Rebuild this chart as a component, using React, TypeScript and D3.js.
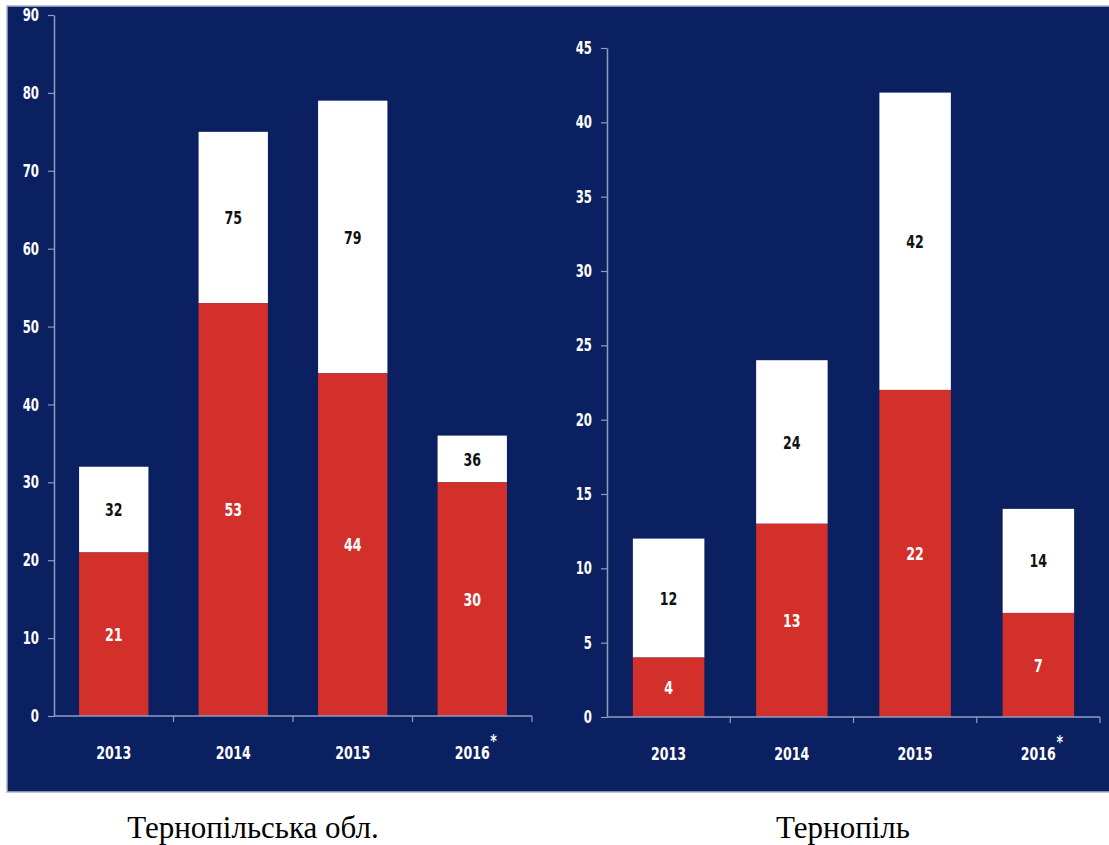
import { useEffect, useRef } from 'react';
import * as d3 from 'd3';

// Years on the x axis (the last one carries a footnote star)
const years = ['2013', '2014', '2015', '2016'];

// Тернопільська обл.
const regionRed = [21, 53, 44, 30];
const regionTotal = [32, 75, 79, 36];
const regionTicks = [0, 10, 20, 30, 40, 50, 60, 70, 80, 90];

// Тернопіль
const cityRed = [4, 13, 22, 7];
const cityTotal = [12, 24, 42, 14];
const cityTicks = [0, 5, 10, 15, 20, 25, 30, 35, 40, 45];

const captions = ['Тернопільська обл.', 'Тернопіль'];

const NAVY = '#0b2060';
const RED = '#d3302c';
const AXIS = '#8e9cc4';
const FONT = '"DejaVu Sans Condensed", "DejaVu Sans", sans-serif';
const STRETCH = 1.3; // slide text is squeezed sideways / tall

interface PanelSpec {
  red: number[];
  total: number[];
  ticks: number[];
  x0: number;
  x1: number;
  yTop: number;
  yZero: number;
  barFrac: number;
  caption: string;
  captionX: number;
}

type Sel = d3.Selection<SVGGElement, unknown, null, undefined>;

// tall bold label centred vertically on (x, y)
function tallText(g: Sel, x: number, y: number, txt: string, fill: string, size: number, anchor = 'middle') {
  g.append('text')
    .attr('transform', `translate(${x},${y}) scale(1,${STRETCH})`)
    .attr('text-anchor', anchor)
    .attr('dy', '0.36em')
    .attr('fill', fill)
    .style('font-family', FONT)
    .style('font-weight', 'bold')
    .style('font-size', `${size}px`)
    .text(txt);
}

const App = () => {
  const ref = useRef<SVGSVGElement | null>(null);

  useEffect(() => {
    if (!ref.current) return;
    const svg = d3.select(ref.current);
    svg.selectAll('*').remove();

    const W = 1109;
    const H = 845;

    // white page, navy slide behind both charts
    svg.append('rect').attr('width', W).attr('height', H).attr('fill', '#fff');
    svg.append('rect')
      .attr('x', 7).attr('y', 6)
      .attr('width', W).attr('height', 786)
      .attr('fill', NAVY)
      .attr('stroke', '#a9b4c8')
      .attr('stroke-width', 1.5);

    const panels: PanelSpec[] = [
      { red: regionRed, total: regionTotal, ticks: regionTicks, x0: 54, x1: 532, yTop: 15, yZero: 716, barFrac: 0.58, caption: captions[0], captionX: 253 },
      { red: cityRed, total: cityTotal, ticks: cityTicks, x0: 607, x1: 1100, yTop: 48, yZero: 717, barFrac: 0.58, caption: captions[1], captionX: 843 },
    ];

    panels.forEach(p => {
      const g = svg.append('g') as unknown as Sel;
      const x = d3.scaleBand<string>().domain(years).range([p.x0, p.x1]).padding(0);
      const y = d3.scaleLinear()
        .domain([0, p.ticks[p.ticks.length - 1]])
        .range([p.yZero, p.yTop]);
      const bw = x.bandwidth() * p.barFrac;
      const bx = (d: string) => (x(d) || 0) + (x.bandwidth() - bw) / 2;

      // y axis (labels drawn separately so they can be stretched)
      const ya = g.append('g')
        .attr('transform', `translate(${p.x0},0)`)
        .call(d3.axisLeft(y).tickValues(p.ticks).tickSize(6).tickFormat(() => '').tickSizeOuter(0));
      ya.select('.domain').attr('stroke', AXIS).attr('stroke-width', 1.5);
      ya.selectAll('line').attr('stroke', AXIS).attr('stroke-width', 1.2);
      p.ticks.forEach(t => tallText(g, p.x0 - 15, y(t), String(t), '#fff', 13, 'end'));

      // stacked bars: red part and white remainder up to the total
      years.forEach((yr, i) => {
        g.append('rect')
          .attr('x', bx(yr)).attr('width', bw)
          .attr('y', y(p.total[i])).attr('height', y(p.red[i]) - y(p.total[i]))
          .attr('fill', '#fff');
        g.append('rect')
          .attr('x', bx(yr)).attr('width', bw)
          .attr('y', y(p.red[i])).attr('height', y(0) - y(p.red[i]))
          .attr('fill', RED);

        const cx = (x(yr) || 0) + x.bandwidth() / 2;
        tallText(g, cx, (y(p.total[i]) + y(p.red[i])) / 2, String(p.total[i]), '#111', 14);
        tallText(g, cx, (y(0) + y(p.red[i])) / 2, String(p.red[i]), '#fff', 14);
      });

      // x axis line with ticks at band edges
      g.append('line')
        .attr('x1', p.x0).attr('x2', p.x1)
        .attr('y1', p.yZero).attr('y2', p.yZero)
        .attr('stroke', AXIS).attr('stroke-width', 1.5);
      years.forEach(yr => {
        const e = (x(yr) || 0) + x.bandwidth();
        g.append('line')
          .attr('x1', e).attr('x2', e)
          .attr('y1', p.yZero).attr('y2', p.yZero + 6)
          .attr('stroke', AXIS).attr('stroke-width', 1.2);
      });

      years.forEach((yr, i) => {
        const cx = (x(yr) || 0) + x.bandwidth() / 2;
        tallText(g, cx, p.yZero + 36, yr, '#fff', 14);
        if (i === years.length - 1) {
          tallText(g, cx + 18, p.yZero + 24, '*', '#fff', 14, 'start');
        }
      });

      // caption under the slide
      svg.append('text')
        .attr('x', p.captionX).attr('y', 838)
        .attr('text-anchor', 'middle')
        .attr('fill', '#000')
        .style('font-family', '"Liberation Serif", "Times New Roman", serif')
        .style('font-size', '31px')
        .text(p.caption);
    });

    return () => {
      svg.selectAll('*').remove();
    };
  }, []);

  return (
    <svg
      ref={ref}
      width={1109}
      height={845}
      style={{ position: 'absolute', left: 0, top: 0, display: 'block' }}
    />
  );
};

export default App;
